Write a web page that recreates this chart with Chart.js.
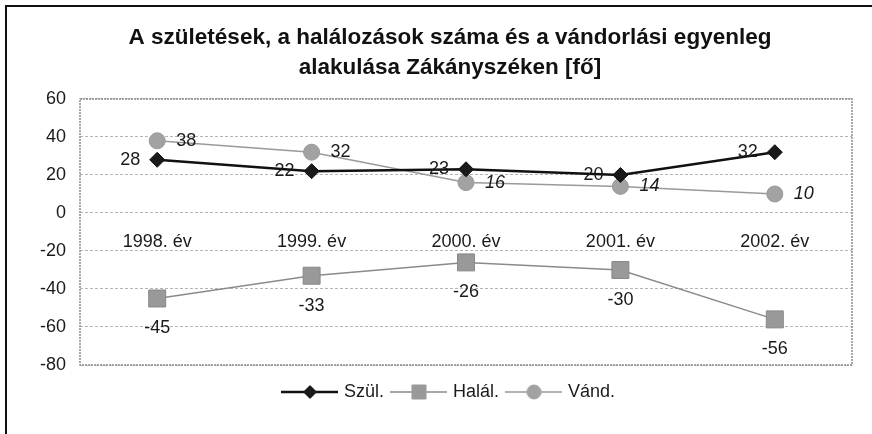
<!DOCTYPE html>
<html><head><meta charset="utf-8">
<script src="https://cdn.jsdelivr.net/npm/chart.js@4.4.1/dist/chart.umd.min.js"></script>
<style>
html,body{margin:0;padding:0;background:#fff;}
#wrap{position:relative;width:872px;height:434px;}
</style></head><body>
<div id="wrap"><canvas id="c"></canvas></div>
<script>
const categories = ['1998. év', '1999. év', '2000. év', '2001. év', '2002. év'];
const szulValues = [28, 22, 23, 20, 32];
const halalValues = [-45, -33, -26, -30, -56];
const vandValues = [38, 32, 16, 14, 10];
const seriesNames = ['Szül.', 'Halál.', 'Vánd.'];
const titleLines = ['A születések, a halálozások száma és a vándorlási egyenleg', 'alakulása Zákányszéken [fő]'];
const yMin = -80, yMax = 60, yStep = 20;

const FONT = '"Liberation Sans", Arial, sans-serif';

function legendIcon(lineColor, lineWidth, shape, fill, r) {
  const c = document.createElement('canvas');
  c.width = 57; c.height = 20;
  const g = c.getContext('2d');
  g.strokeStyle = lineColor; g.lineWidth = lineWidth;
  g.beginPath(); g.moveTo(0, 10); g.lineTo(57, 10); g.stroke();
  g.fillStyle = fill; g.strokeStyle = fill; g.lineWidth = 1;
  const cx = 28.5, cy = 10;
  g.beginPath();
  if (shape === 'diamond') {
    g.moveTo(cx, cy - r); g.lineTo(cx + r, cy); g.lineTo(cx, cy + r); g.lineTo(cx - r, cy); g.closePath();
  } else if (shape === 'square') {
    g.rect(cx - r, cy - r, 2 * r, 2 * r);
  } else {
    g.arc(cx, cy, r, 0, Math.PI * 2);
  }
  g.fill(); g.stroke();
  return c;
}

const frame = {
  id: 'frame',
  afterLayout(chart) {
    // widen the label clip area of the y axis so tick labels may extend left of it
    chart.scales.y.left = 0;
  },
  beforeDraw(chart) {
    const ctx = chart.ctx;
    ctx.save();
    ctx.fillStyle = '#fff';
    ctx.fillRect(0, 0, chart.width, chart.height);
    ctx.strokeStyle = '#111';
    ctx.lineWidth = 2;
    ctx.beginPath();
    ctx.moveTo(6, 434); ctx.lineTo(6, 6); ctx.lineTo(872, 6);
    ctx.stroke();
    ctx.restore();
  },
  beforeDatasetsDraw(chart) {
    const a = chart.chartArea, ctx = chart.ctx;
    ctx.save();
    ctx.strokeStyle = '#8c8c8c';
    ctx.lineWidth = 1.5;
    ctx.setLineDash([2, 1]);
    ctx.strokeRect(a.left, a.top, a.right - a.left, a.bottom - a.top);
    ctx.restore();
  }
};

const dataLabels = {
  id: 'dataLabels',
  afterDatasetsDraw(chart, args, opts) {
    const ctx = chart.ctx;
    ctx.save();
    ctx.fillStyle = '#1a1a1a';
    chart.data.datasets.forEach((ds, i) => {
      const meta = chart.getDatasetMeta(i);
      const cfg = opts.series[i];
      meta.data.forEach((pt, j) => {
        const italic = cfg.italic && cfg.italic[j];
        ctx.font = (italic ? 'italic ' : '') + '18px ' + FONT;
        ctx.textAlign = cfg.align;
        ctx.textBaseline = 'middle';
        ctx.fillText(String(ds.data[j]), pt.x + cfg.dx, pt.y + cfg.dy);
      });
    });
    ctx.restore();
  }
};

new Chart(document.getElementById('c'), {
  type: 'line',
  data: {
    labels: categories,
    datasets: [
      {
        label: seriesNames[0], data: szulValues,
        borderColor: '#111', backgroundColor: '#111', borderWidth: 2.5,
        pointStyle: 'rectRot', pointRadius: 7.5, pointBackgroundColor: '#1a1a1a', pointBorderColor: '#111', pointBorderWidth: 1,
        tension: 0, order: 0
      },
      {
        label: seriesNames[1], data: halalValues,
        borderColor: '#8a8a8a', backgroundColor: '#8a8a8a', borderWidth: 1.5,
        pointStyle: 'rect', pointRadius: 12, pointBackgroundColor: '#999', pointBorderColor: '#888', pointBorderWidth: 1,
        tension: 0, order: 1
      },
      {
        label: seriesNames[2], data: vandValues,
        borderColor: '#9a9a9a', backgroundColor: '#9a9a9a', borderWidth: 1.5,
        pointStyle: 'circle', pointRadius: 8, pointBackgroundColor: '#a2a2a2', pointBorderColor: '#999', pointBorderWidth: 1,
        tension: 0, order: 2
      }
    ]
  },
  options: {
    responsive: true,
    maintainAspectRatio: false,
    animation: false,
    layout: { padding: { left: 48, right: 20, top: 0, bottom: 23 } },
    scales: {
      x: {
        position: { y: 0 },
        offset: true,
        grid: { display: false, drawTicks: false },
        border: { display: false },
        ticks: { color: '#1a1a1a', font: { family: FONT, size: 18 }, padding: 18, maxRotation: 0 }
      },
      y: {
        min: yMin, max: yMax,
        afterFit(scale) { scale.width = 32; },
        grid: { color: '#b5b5b5', lineWidth: 1, drawTicks: false },
        border: { display: false, dash: [3, 2] },
        ticks: { stepSize: yStep, color: '#1a1a1a', font: { family: FONT, size: 18 }, padding: 14 }
      }
    },
    plugins: {
      title: {
        display: true,
        text: titleLines,
        color: '#111',
        font: { family: FONT, size: 22.5, weight: 'bold', lineHeight: 1.333 },
        padding: { top: 23, bottom: 16 }
      },
      legend: {
        position: 'bottom',
        title: { display: true, text: '', font: { size: 8, lineHeight: 1 }, padding: 0 },
        labels: {
          usePointStyle: true,
          pointStyleWidth: 50,
          padding: 10,
          color: '#1a1a1a',
          font: { family: FONT, size: 18 },
          generateLabels(chart) {
            const icons = [
              legendIcon('#111', 2.5, 'diamond', '#1a1a1a', 6.5),
              legendIcon('#8a8a8a', 1.5, 'square', '#999', 7),
              legendIcon('#9a9a9a', 1.5, 'circle', '#a2a2a2', 7)
            ];
            return chart.data.datasets.map((ds, i) => ({
              text: ds.label, pointStyle: icons[i], datasetIndex: i,
              fillStyle: ds.borderColor, strokeStyle: ds.borderColor, lineWidth: 0, hidden: false, fontColor: '#1a1a1a'
            }));
          }
        }
      },
      tooltip: { enabled: false },
      dataLabels: {
        series: [
          { align: 'right', dx: -17, dy: 0 },
          { align: 'center', dx: 0, dy: 30 },
          { align: 'left', dx: 19, dy: 0, italic: [false, false, true, true, true] }
        ]
      }
    }
  },
  plugins: [frame, dataLabels]
});
</script>
</body></html>
